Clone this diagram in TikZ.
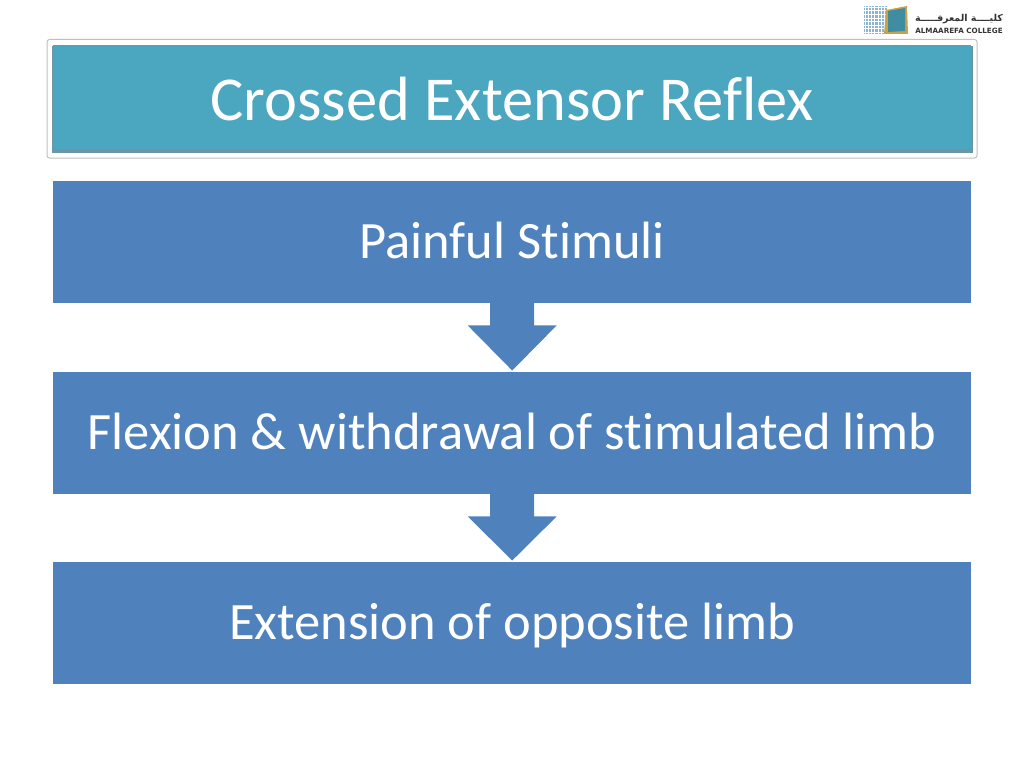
\documentclass[tikz,border=0pt]{standalone}
\usepackage{fontspec}
\setmainfont[Ligatures=NoCommon]{Carlito}
\newfontfamily\arabicfont[Script=Arabic]{DejaVu Sans}
\newfontfamily\logofont{DejaVu Sans}
\TeXXeTstate=1
\usetikzlibrary{calc}
\definecolor{boxblue}{HTML}{4F81BD}
\definecolor{titleteal}{HTML}{4BA6BF}
\definecolor{titledark}{HTML}{6C96A6}
\definecolor{logoblue}{HTML}{8FB4D0}
\definecolor{logogold}{HTML}{C9A24A}
\definecolor{logotext}{HTML}{333333}
\tikzset{
  x=1pt,y=-1pt,
  stepbox/.style={fill=boxblue,text=white,minimum width=918pt,minimum height=122pt,inner sep=0pt,anchor=north west,text height=40pt,text depth=8pt,font=\fontsize{52.5}{56}\selectfont},
  flowarrow/.style={fill=boxblue,draw=none},
}
\begin{document}
\begin{tikzpicture}
\useasboundingbox (0,0) rectangle (1024,768);
% title frame
\draw[draw=black!25,fill=white,rounded corners=2.5pt,line width=1pt] (47,39.5) rectangle (977,158);
\fill[titledark] (52,46) rectangle (972.5,153);
\node[fill=titleteal,minimum width=918pt,minimum height=104pt,inner sep=0pt,anchor=north west] (title) at (53,45) {};
\node[text=white,font=\fontsize{62.5}{66}\selectfont,inner sep=0pt] (titletext) at (512,99) {Crossed Extensor Reflex};
% steps
\node[stepbox] (s1) at (53,181) {Painful Stimuli};
\node[stepbox] (s2) at (53,372) {Flexion \& withdrawal of stimulated limb};
\node[stepbox] (s3) at (53,562) {Extension of opposite limb};
% arrows
\foreach \a/\b in {s1/s2,s2/s3}{
  \fill[flowarrow] let \p1=(\a.south), \p2=(\b.north) in
    (\x1-22,\y1+1) -- (\x1+22,\y1+1) -- (\x1+22,\y1-22) -- (\x1+44.5,\y1-22)
    -- (\x1,\y2+1.5) -- (\x1-44.5,\y1-22) -- (\x1-22,\y1-22) -- cycle;
}
% logo
\fill[logoblue] (864,6) rectangle (888,34);
\foreach \i in {0,...,7}{\draw[white,line width=.5pt] (864,{7+\i*3.6}) -- (888,{7+\i*3.6});
  \draw[white,line width=.5pt] ({865+\i*3.2},6) -- ({865+\i*3.2},34);}
\fill[logogold] (886,10) -- (907,6) -- (908,34) -- (884,34) -- cycle;
\fill[titleteal!85!black] (888,11) -- (905,8) -- (905,31) -- (888,32) -- cycle;
\node[inner sep=0pt,text=logotext,font=\arabicfont\bfseries\fontsize{9.5}{10}\selectfont] (logoar) at (959,19) {\beginR كليــــة المعرفـــــة\endR};
\node[inner sep=0pt,text=logotext,font=\logofont\bfseries\fontsize{7.2}{8}\selectfont] (logoen) at (959,31) {ALMAAREFA COLLEGE};
\end{tikzpicture}
\end{document}
